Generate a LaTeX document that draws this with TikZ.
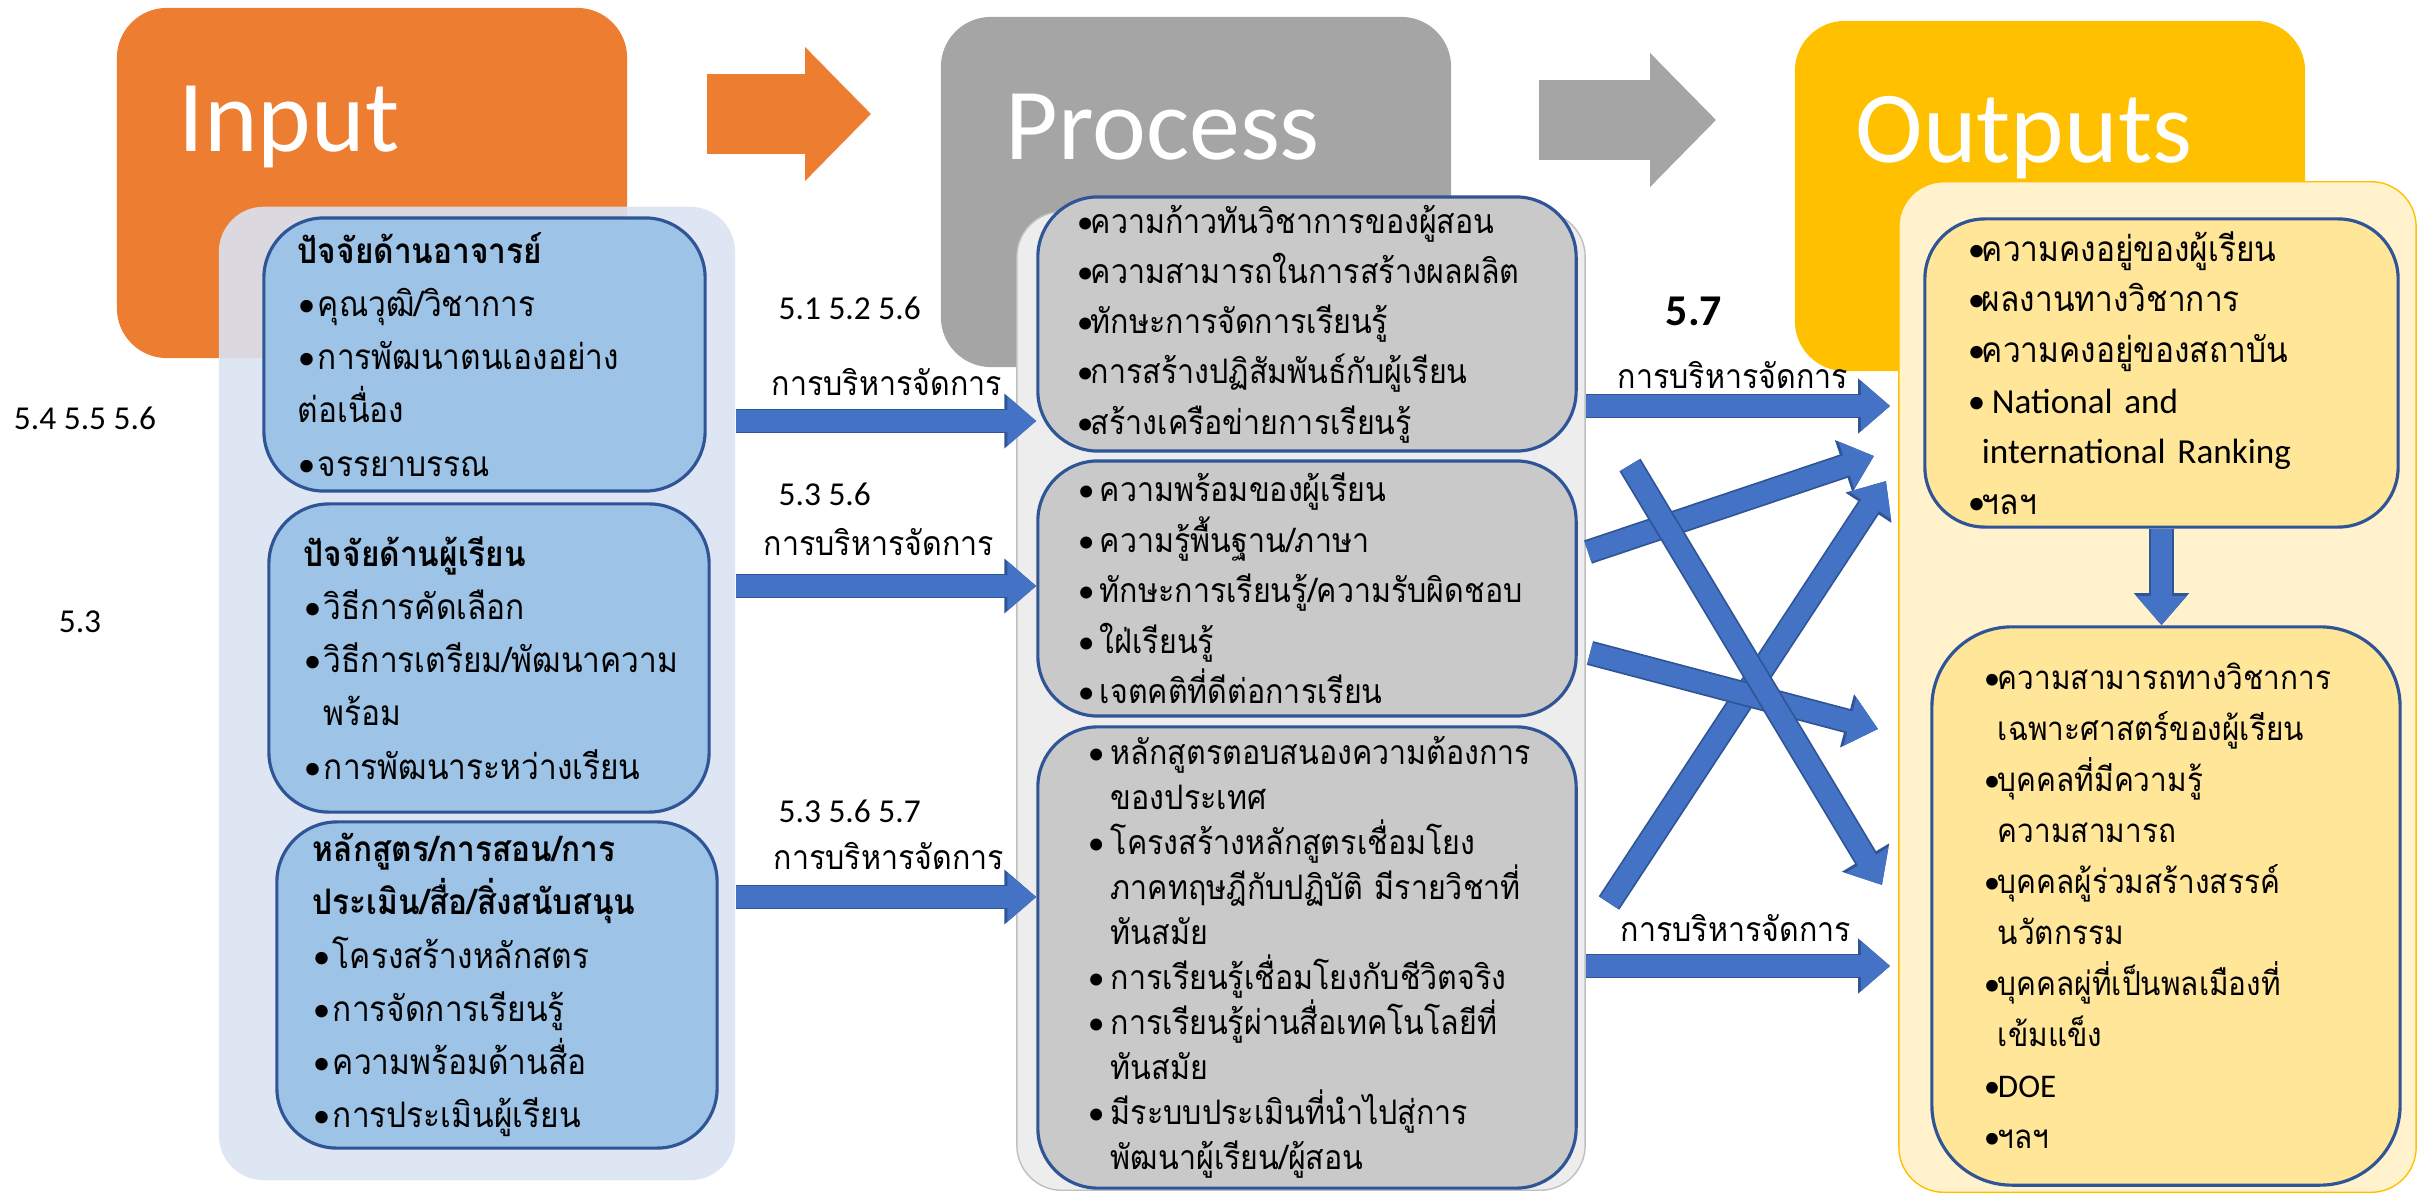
\documentclass[tikz,border=0pt]{standalone}
\usepackage{fontspec}
\setmainfont{Carlito}
\newfontfamily\thai[Script=Thai, FakeStretch=0.9]{Loma}
\newfontfamily\latn{Carlito}
\usetikzlibrary{arrows.meta}

\definecolor{inorange}{HTML}{ED7D31}
\definecolor{prgray}{HTML}{A5A5A5}
\definecolor{ougold}{HTML}{FFC000}
\definecolor{inpale}{HTML}{DAE3F3}
\definecolor{inblue}{HTML}{9DC3E6}
\definecolor{prpale}{HTML}{EDEDED}
\definecolor{prline}{HTML}{BFBFBF}
\definecolor{prfill}{HTML}{C9C9C9}
\definecolor{oupale}{HTML}{FFF2CC}
\definecolor{oufill}{HTML}{FFE699}
\definecolor{boxline}{HTML}{2F5597}
\definecolor{flowblue}{HTML}{4472C4}

\newcommand\bu{{\latn\textbullet}}
\newcommand\bi[1][0.2cm]{\makebox[#1][l]{\bu}}
\newcommand\ci[1][0.2cm]{\hspace*{#1}}

\tikzset{
  titlebox/.style={rounded corners=0.5cm, minimum width=5.1cm, minimum height=3.5cm},
  titletxt/.style={text=white, font=\fontsize{29}{30}\selectfont, anchor=base west, inner sep=0pt},
  cont/.style={rounded corners=0.45cm},
  tbox/.style={draw=boxline, line width=0.9pt, rounded corners=0.6cm, align=left, inner ysep=0pt},
  flow/.style={draw=flowblue, line width=0.21cm, -{Triangle[width=0.48cm,length=0.29cm]},
    preaction={draw=boxline, line width=0.245cm, -{Triangle[width=0.53cm,length=0.32cm]}}},
  bigflow/.style={line width=0.79cm, -{Triangle[width=1.3cm,length=0.66cm]}},
  lbl/.style={font=\thai\fontsize{9.6}{12}\selectfont, inner sep=0pt, anchor=base west},
  num/.style={font=\fontsize{9.5}{11}\selectfont, inner sep=0pt}
}

\begin{document}
\begin{tikzpicture}[x=0.01cm, y=-0.01cm]
  \useasboundingbox (0,0) rectangle (2420,1194);

  \node[titlebox, fill=inorange] (inT) at (372,183) {};
  \node[titlebox, fill=prgray] (prT) at (1196,192) {};
  \node[titlebox, fill=ougold] (ouT) at (2050,196) {};
  \node[titletxt] (inL) at (178,152) {Input};
  \node[titletxt] (prL) at (1005,160) {Process};
  \node[titletxt] (ouL) at (1855,163) {Outputs};

  \draw[bigflow, inorange, shorten <=0.79cm, shorten >=0.69cm] (inT.east |- 0,114) -- (prT.west |- 0,114);
  \draw[bigflow, prgray, shorten <=0.87cm, shorten >=0.78cm] (prT.east |- 0,120) -- (ouT.west |- 0,120);

  \node[cont, fill=inpale, fill opacity=0.9, minimum width=5.16cm, minimum height=9.73cm] (inC) at (477,693.5) {};
  \node[cont, fill=prpale, draw=prline, minimum width=5.68cm, minimum height=9.78cm] (prC) at (1301,701) {};
  \node[cont, fill=oupale, draw=ougold, minimum width=5.17cm, minimum height=10.10cm] (ouC) at (2157.5,687) {};

  \node[tbox, fill=inblue, minimum width=4.41cm, minimum height=2.73cm, inner xsep=0.34cm, text width=3.73cm,
    font=\thai\fontsize{10}{15.1}\selectfont] (in1) at (484.5,354.5)
    {\textbf{ปัจจัยด้านอาจารย์}\\ \bi คุณวุฒิ/วิชาการ\\ \bi การพัฒนาตนเองอย่าง\\ ต่อเนื่อง\\ \bi จรรยาบรรณ};
  \node[tbox, fill=inblue, minimum width=4.40cm, minimum height=3.08cm, inner xsep=0.35cm, text width=3.70cm,
    font=\thai\fontsize{10}{15.1}\selectfont] (in2) at (489,658)
    {\textbf{ปัจจัยด้านผู้เรียน}\\ \bi วิธีการคัดเลือก\\ \bi วิธีการเตรียม/พัฒนาความ\\ \ci พร้อม\\ \bi การพัฒนาระหว่างเรียน};
  \node[tbox, fill=inblue, minimum width=4.40cm, minimum height=3.26cm, inner xsep=0.36cm, text width=3.68cm,
    font=\thai\fontsize{10}{15.1}\selectfont] (in3) at (497,985)
    {\textbf{หลักสูตร/การสอน/การ}\\ \textbf{ประเมิน/สื่อ/สิ่งสนับสนุน}\\ \bi โครงสร้างหลักสตร\\ \bi การจัดการเรียนรู้\\
     \bi ความพร้อมด้านสื่อ\\ \bi การประเมินผู้เรียน};

  \node[tbox, fill=prfill, minimum width=5.38cm, minimum height=2.54cm, inner xsep=0.39cm, text width=4.60cm,
    font=\thai\fontsize{9.6}{14.3}\selectfont] (pr1) at (1307,324)
    {\bi[0.14cm]ความก้าวทันวิชาการของผู้สอน\\ \bi[0.14cm]ความสามารถในการสร้างผลผลิต\\ \bi[0.14cm]ทักษะการจัดการเรียนรู้\\
     \bi[0.14cm]การสร้างปฏิสัมพันธ์กับผู้เรียน\\ \bi[0.14cm]สร้างเครือข่ายการเรียนรู้};
  \node[tbox, fill=prfill, minimum width=5.38cm, minimum height=2.55cm, inner xsep=0.40cm, text width=4.58cm,
    font=\thai\fontsize{9.6}{14.4}\selectfont] (pr2) at (1307,588.5)
    {\bi[0.22cm]ความพร้อมของผู้เรียน\\ \bi[0.22cm]ความรู้พื้นฐาน/ภาษา\\ \bi[0.22cm]ทักษะการเรียนรู้/ความรับผิดชอบ\\
     \bi[0.22cm]ใฝ่เรียนรู้\\ \bi[0.22cm]เจตคติที่ดีต่อการเรียน};
  \node[tbox, fill=prfill, minimum width=5.38cm, minimum height=4.61cm, inner xsep=0.50cm, text width=4.38cm,
    font=\thai\fontsize{9.6}{12.8}\selectfont] (pr3) at (1307,957.5)
    {\bi[0.23cm]หลักสูตรตอบสนองความต้องการ\\ \ci[0.23cm]ของประเทศ\\ \bi[0.23cm]โครงสร้างหลักสูตรเชื่อมโยง\\
     \ci[0.23cm]ภาคทฤษฎีกับปฏิบัติ~มีรายวิชาที่\\ \ci[0.23cm]ทันสมัย\\ \bi[0.23cm]การเรียนรู้เชื่อมโยงกับชีวิตจริง\\
     \bi[0.23cm]การเรียนรู้ผ่านสื่อเทคโนโลยีที่\\ \ci[0.23cm]ทันสมัย\\ \bi[0.23cm]มีระบบประเมินที่นำไปสู่การ\\
     \ci[0.23cm]พัฒนาผู้เรียน/ผู้สอน};

  \node[tbox, fill=oufill, minimum width=4.73cm, minimum height=3.08cm, inner xsep=0.43cm, text width=3.87cm,
    font=\thai\fontsize{10}{14.4}\selectfont] (ou1) at (2161.5,373)
    {\bi[0.14cm]ความคงอยู่ของผู้เรียน\\ \bi[0.14cm]ผลงานทางวิชาการ\\ \bi[0.14cm]ความคงอยู่ของสถาบัน\\
     \bi[0.24cm]{\latn National~and}\\ \ci[0.14cm]{\latn international~Ranking}\\ \bi[0.14cm]ฯลฯ};
  \node[tbox, fill=oufill, rounded corners=0.8cm, minimum width=4.68cm, minimum height=5.58cm, inner xsep=0.52cm,
    text width=3.64cm, font=\thai\fontsize{9.4}{14.5}\selectfont] (ou2) at (2166,906)
    {\bi[0.14cm]ความสามารถทางวิชาการ\\ \ci[0.14cm]เฉพาะศาสตร์ของผู้เรียน\\ \bi[0.14cm]บุคคลที่มีความรู้\\
     \ci[0.14cm]ความสามารถ\\ \bi[0.14cm]บุคคลผู้ร่วมสร้างสรรค์\\ \ci[0.14cm]นวัตกรรม\\
     \bi[0.14cm]บุคคลผู่ที่เป็นพลเมืองที่\\ \ci[0.14cm]เข้มแข็ง\\ \bi[0.14cm]{\latn DOE}\\ \bi[0.14cm]ฯลฯ};

  \draw[flow] (inC.east |- 0,421) -- (pr1.west |- 0,421);
  \draw[flow] (inC.east |- 0,586) -- (pr2.west |- 0,586);
  \draw[flow] (inC.east |- 0,897) -- (pr3.west |- 0,897);
  \draw[flow, shorten >=0.08cm] (prC.east |- 0,406) -- (ouC.west |- 0,406);
  \draw[flow, shorten >=0.08cm] (prC.east |- 0,966) -- (ouC.west |- 0,966);
  \coordinate (xa) at (1588,552); \coordinate (ya) at (1874,456);
  \coordinate (xb) at (1609,903); \coordinate (yb) at (1886,481);
  \coordinate (xc) at (1590,653); \coordinate (yc) at (1878,729);
  \coordinate (xd) at (1630,465); \coordinate (yd) at (1882,885);
  \draw[flow] (xa) -- (ya);
  \draw[flow] (xb) -- (yb);
  \draw[flow] (xc) -- (yc);
  \draw[flow] (xd) -- (yd);
  \draw[flow] (ou1.south) -- (ou1.south |- ou2.north);

  \node[num] (n1) at (85,418) {5.4 5.5 5.6};
  \node[num] (n2) at (80,622) {5.3};
  \node[num, anchor=base west] (n3) at (778,320) {5.1 5.2 5.6};
  \node[lbl] (m1) at (771,396) {การบริหารจัดการ};
  \node[num, anchor=base west] (n4) at (778,505) {5.3 5.6};
  \node[lbl] (m2) at (763,555) {การบริหารจัดการ};
  \node[num, anchor=base west] (n5) at (778,822) {5.3 5.6 5.7};
  \node[lbl] (m3) at (773,869) {การบริหารจัดการ};
  \node[num, anchor=base west, font=\bfseries\fontsize{12.5}{14}\selectfont] (n6) at (1665,326) {5.7};
  \node[lbl] (m4) at (1617,389) {การบริหารจัดการ};
  \node[lbl] (m5) at (1620,941) {การบริหารจัดการ};
\end{tikzpicture}
\end{document}
